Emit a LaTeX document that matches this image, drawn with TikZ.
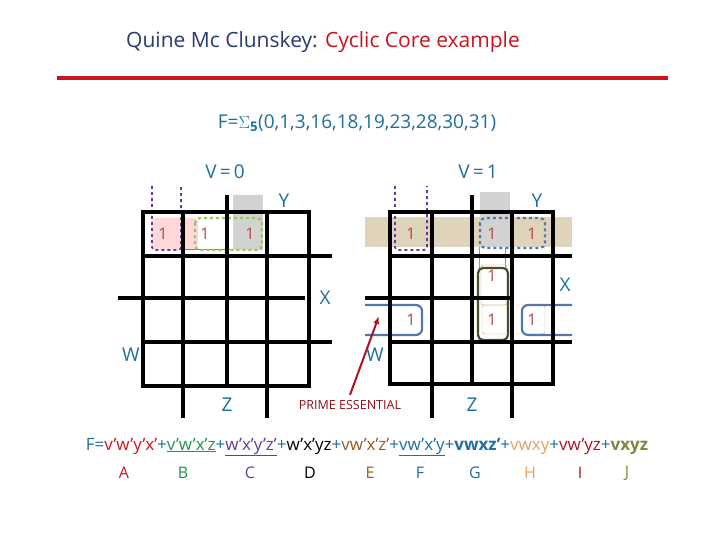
\documentclass[tikz,border=0pt]{standalone}
\usepackage{fontspec}
\setmainfont{Open Sans}
\usetikzlibrary{arrows.meta}
\definecolor{tblue}{RGB}{30,110,160}
\definecolor{tred}{RGB}{200,20,30}
\definecolor{dred}{RGB}{170,20,30}
\definecolor{onered}{RGB}{180,70,70}
\definecolor{pgreen}{RGB}{30,150,70}
\definecolor{ppurple}{RGB}{100,60,150}
\definecolor{pbrown}{RGB}{150,90,30}
\definecolor{porange}{RGB}{230,160,100}
\definecolor{polive}{RGB}{120,140,60}
\definecolor{tan}{RGB}{215,200,170}
\definecolor{lgreen}{RGB}{150,200,90}
\definecolor{sblue}{RGB}{80,120,170}
\definecolor{olivedark}{RGB}{70,80,40}
\definecolor{titleblue}{RGB}{40,60,110}
\tikzset{grid/.style={line width=3.5pt,black},
 one/.style={text=onered,font=\fontsize{16}{18}\selectfont},
 lab/.style={text=tblue,font=\fontsize{19}{21}\selectfont},
 x=1pt,y=-1pt}
\begin{document}
\begin{tikzpicture}
\useasboundingbox (0,0) rectangle (720,540);
\node (title) at (323,42) {\fontsize{21}{24}\selectfont\textcolor{titleblue}{Quine Mc Clunskey:} \textcolor{tred}{Cyclic Core example}};
\draw[tred,line width=3.5pt] (57,78) -- (668,78);
\node (F) at (357,123) {\fontsize{19}{22}\selectfont\textcolor{tblue}{F=$\Sigma_{\mathbf 5}$(0,1,3,16,18,19,23,28,30,31)}};
\node[lab] (v0) at (225,172) {V\,=\,0};
\node[lab] (v1) at (478,172) {V\,=\,1};
% ---- left map backgrounds
\fill[gray!35] (233,195) rectangle (263,250);
\fill[red!15,rounded corners=4pt] (152,218) rectangle (198,250);
\draw[tred!70,thin] (181,249) -- (230,249);
\draw[ppurple,dashed,line width=1.8pt,rounded corners=3pt] (152,186) -- (152,250) -- (181,250) -- (181,186);
\draw[lgreen,dashed,line width=2.2pt,rounded corners=5pt] (195,218) rectangle (262,250);
% left grid
\draw[grid] (143,212) rectangle (309,386);
\draw[grid] (183,212) -- (183,418);
\draw[grid] (227,195) -- (227,386);
\draw[grid] (267,212) -- (267,418);
\draw[grid] (143,256) -- (332,256);
\draw[grid] (118,298) -- (305,298);
\draw[grid] (143,342) -- (332,342);
\node[one] (l1) at (163,234) {1};
\node[one] (l2) at (205,234) {1};
\node[one] (l3) at (250,234) {1};
\node[lab] (ly) at (284,201) {Y};
\node[lab] (lx) at (325,298) {X};
\node[lab] (lw) at (131,355) {W};
\node[lab] (lz) at (227,405) {Z};
% ---- right map backgrounds
\fill[tan!80] (365,217) rectangle (572,247);
\fill[gray!35] (480,192) rectangle (510,247);
\draw[ppurple,dashed,line width=1.8pt,rounded corners=3pt] (395,186) -- (395,250) -- (427,250) -- (427,186);
\draw[sblue,dashed,line width=2.2pt,rounded corners=5pt] (480,218) rectangle (545,248);
\draw[pbrown!70,thin] (479,247) -- (479,270) (505,247) -- (505,270);
\draw[pbrown!70,thin,rounded corners=2pt] (481,265) rectangle (507,305);
\draw[olivedark,line width=2.2pt,rounded corners=5pt] (478,268) rectangle (508,340);
\draw[porange,thin,rounded corners=3pt] (482,305) rectangle (545,334);
\draw[sblue,line width=2.2pt,rounded corners=6pt] (365,305) -- (422,305) -- (422,335) -- (365,335);
\draw[sblue,line width=2.2pt,rounded corners=6pt] (572,305) -- (522,305) -- (522,335) -- (572,335);
% right grid
\draw[grid] (390,212) rectangle (553,384);
\draw[grid] (432,212) -- (432,418);
\draw[grid] (472,195) -- (472,384);
\draw[grid] (512,212) -- (512,418);
\draw[grid] (390,256) -- (572,256);
\draw[grid] (365,298) -- (512,298);
\draw[grid] (390,342) -- (572,342);
\node[one] (r1) at (411,234) {1};
\node[one] (r2) at (492,234) {1};
\node[one] (r3) at (532,234) {1};
\node[one] (r4) at (492,276) {1};
\node[one] (r5) at (411,320) {1};
\node[one] (r6) at (492,320) {1};
\node[one] (r7) at (532,320) {1};
\node[lab] (ry) at (537,201) {Y};
\node[lab] (rx) at (565,285) {X};
\node[lab] (rw) at (375,355) {W};
\node[lab] (rz) at (472,405) {Z};
\node[text=dred!80!black,font=\fontsize{12.5}{14}\selectfont] (pe) at (350,405) {PRIME ESSENTIAL};
\coordinate (tip) at (379,316);
\draw[dred,line width=2pt,-{Latex[length=8pt]}] (pe.north) ++(0,-2) -- (tip);
% ---- formula
\node (form) at (367,447) {\fontsize{17}{20}\selectfont\color{tblue}F=\textcolor{tred}{v'w'y'x'}+\textcolor{pgreen}{\underline{v'w'x'z}}+\textcolor{ppurple}{\underline{w'x'y'z'}}+\textcolor{black}{w'x'yz}+\textcolor{pbrown}{vw'x'z'}+\underline{vw'x'y}+\textbf{vwxz'}+\textcolor{porange}{vwxy}+\textcolor{dred}{vw'yz}+\textcolor{polive}{\textbf{vxyz}}};
\foreach \l/\x/\c in {A/124/tred,B/183/pgreen,C/250/ppurple,D/310/black,E/370/pbrown,F/420/tblue,G/475/tblue,H/530/porange,I/580/dred,J/627/polive}
  \node[text=\c,font=\fontsize{16}{18}\selectfont] (lbl\l) at (\x,473) {\l};
\end{tikzpicture}
\end{document}
